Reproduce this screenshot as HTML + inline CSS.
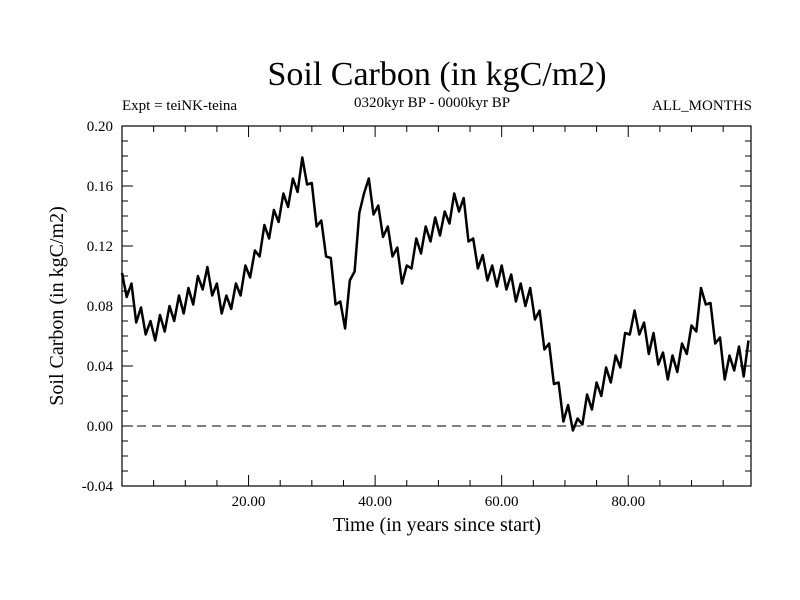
<!DOCTYPE html>
<html><head><meta charset="utf-8"><style>
body{margin:0;background:#fff}
svg{display:block;font-family:"Liberation Serif",serif}
</style></head><body>
<svg id="chart" width="800" height="600" viewBox="0 0 800 600">
<rect width="800" height="600" fill="#fff"/>
<text x="437" y="85" font-size="34" text-anchor="middle">Soil Carbon (in kgC/m2)</text>
<text x="122" y="110" font-size="15">Expt = teiNK-teina</text>
<text x="432" y="107" font-size="15" text-anchor="middle">0320kyr BP - 0000kyr BP</text>
<text x="752" y="110" font-size="15" text-anchor="end">ALL_MONTHS</text>
<g id="axes"></g>
<text x="437" y="531" font-size="20" text-anchor="middle">Time (in years since start)</text>
<text transform="translate(63,306) rotate(-90)" font-size="20" text-anchor="middle">Soil Carbon (in kgC/m2)</text>
</svg>
<script>
const xStep = 0.75;
const seriesValues = [.102,.086,.095,.069,.079,.061,.070,.057,.074,.063,.080,.070,.087,.075,.092,.081,.100,.091,.106,.087,.095,.075,.087,.078,.095,.087,.107,.099,.117,.113,.134,.125,.144,.136,.155,.146,.165,.156,.179,.161,.162,.133,.137,.113,.112,.081,.083,.065,.097,.103,.142,.155,.165,.141,.147,.126,.133,.113,.119,.095,.107,.105,.125,.115,.133,.123,.139,.127,.143,.135,.155,.143,.152,.123,.125,.105,.114,.097,.107,.093,.107,.091,.101,.083,.095,.080,.092,.071,.077,.051,.055,.028,.029,.003,.014,-.003,.005,.001,.021,.011,.029,.020,.039,.029,.047,.039,.062,.061,.077,.061,.069,.048,.062,.041,.049,.031,.047,.036,.055,.048,.067,.063,.092,.081,.082,.055,.059,.031,.047,.037,.053,.033,.057];
const xTicks = [20,40,60,80];
const xTickLabels = ["20.00","40.00","60.00","80.00"];
const yTicks = [-0.04,0,0.04,0.08,0.12,0.16,0.20];
const yTickLabels = ["-0.04","0.00","0.04","0.08","0.12","0.16","0.20"];
const xMin=0,xMax=99.4,yMin=-0.04,yMax=0.20;
const L=122,R=751,T=126,B=486;
const sx=v=>L+(v-xMin)/(xMax-xMin)*(R-L);
const sy=v=>B-(v-yMin)/(yMax-yMin)*(B-T);
const NS="http://www.w3.org/2000/svg";
const g=document.getElementById('axes');
function mk(tag,attrs){const e=document.createElementNS(NS,tag);for(const k in attrs)e.setAttribute(k,attrs[k]);g.appendChild(e);return e;}
let z=mk('line',{x1:L,x2:R,y1:sy(0),y2:sy(0),stroke:'#000','stroke-width':1,'stroke-dasharray':'9,6'});


for(let v=5;v<xMax;v+=5){
 const maj=v%20===0, len=maj?11:6;
 let t=mk('line',{x1:sx(v),x2:sx(v),y1:B,y2:B-len,stroke:'#000'});
 
 
 let t2=mk('line',{x1:sx(v),x2:sx(v),y1:T,y2:T+len,stroke:'#000'});
 
 
}
xTicks.forEach((v,i)=>{
 let tx=mk('text',{x:sx(v),y:506,'font-size':15,'text-anchor':'middle'});
 tx.textContent=xTickLabels[i];
 
 
});
for(let k=0;k<=24;k++){
 const v=yMin+k*0.01, maj=k%4===0, len=maj?11:6;
 let t=mk('line',{x1:L,x2:L+len,y1:sy(v),y2:sy(v),stroke:'#000'});
 
 
 let t2=mk('line',{x1:R,x2:R-len,y1:sy(v),y2:sy(v),stroke:'#000'});
 
 
}
yTicks.forEach((v,i)=>{
 let tx=mk('text',{x:113,y:sy(v)+5,'font-size':15,'text-anchor':'end'});
 tx.textContent=yTickLabels[i];
 
 
});
let pts=seriesValues.map((v,i)=>sx(Math.min(i*xStep,xMax)).toFixed(1)+','+sy(v).toFixed(1)).join(' ');
let line=mk('polyline',{points:pts,fill:'none',stroke:'#000','stroke-width':2.5,'stroke-linejoin':'round'});


let frame=mk('rect',{x:L,y:T,width:R-L,height:B-T,fill:'none',stroke:'#000','stroke-width':1.2});


</script>
</body></html>
